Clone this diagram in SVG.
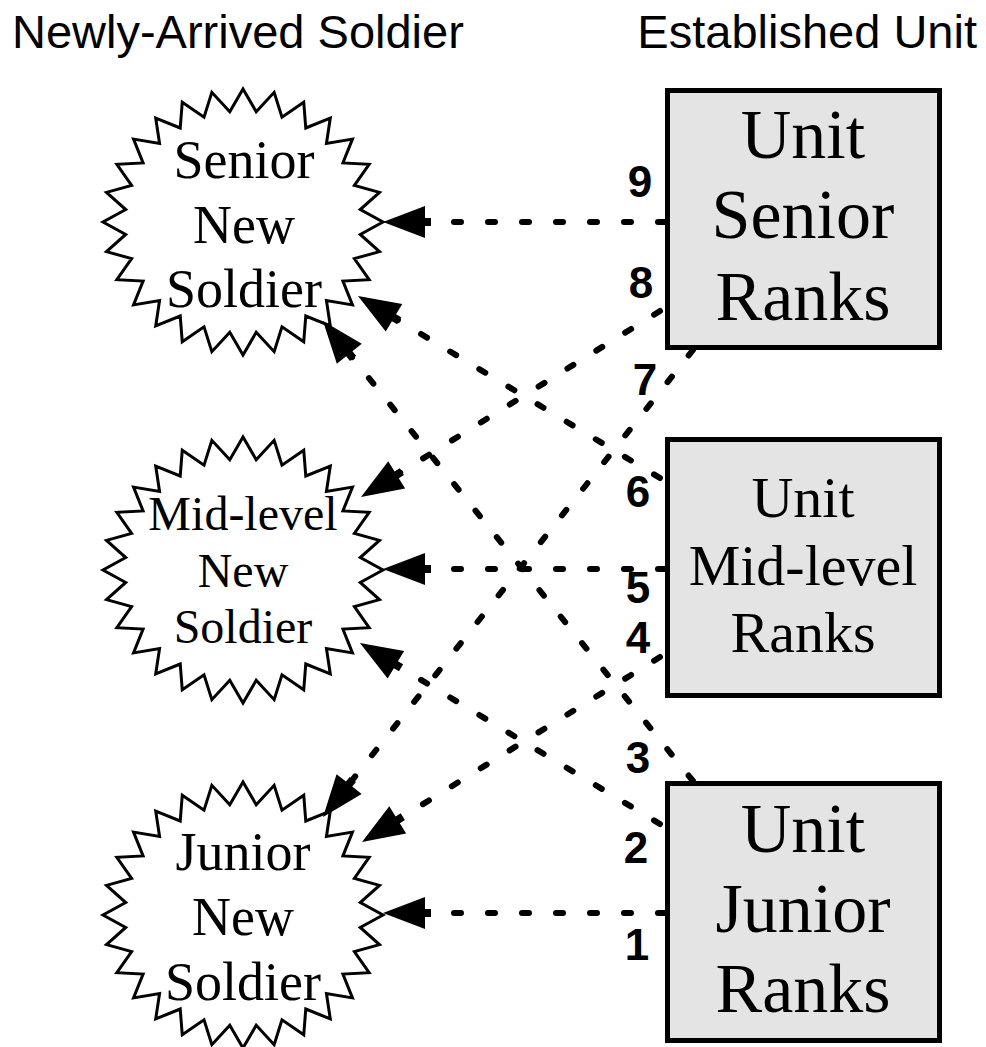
<svg xmlns="http://www.w3.org/2000/svg" xmlns:xlink="http://www.w3.org/1999/xlink" width="986" height="1047" viewBox="0 0 986 1047">
  <style>
    .hdr { font-family: "Liberation Sans", Arial, sans-serif; font-size: 47px; fill: #000; }
    .star { fill: #fff; stroke: #000; stroke-width: 3; stroke-linejoin: miter; }
    .box { fill: #e4e4e4; stroke: #000; stroke-width: 5; }
    .serif { font-family: "Liberation Serif", "Times New Roman", serif; fill: #000; text-anchor: middle; }
    .edge { fill: none; stroke: #000; stroke-width: 6; stroke-linecap: round; stroke-dasharray: 7 27; marker-end: url(#arrow); }
    .num { font-family: "Liberation Sans", Arial, sans-serif; font-weight: bold; font-size: 44px; fill: #000; text-anchor: middle; }
  </style>
  <defs>
    <!-- 28-point starburst, centred on the origin -->
    <path id="burst" d="M140,0 L117.26,12.43 L136.49,29.6 L111.38,36.66 L126.14,57.71 L99.91,59.06 L109.46,82.92 L83.44,78.49 L87.29,103.98 L62.78,93.99 L60.74,119.83 L38.97,104.77 L31.15,129.67 L13.21,110.3 L0,133 L-13.21,110.3 L-31.15,129.67 L-38.97,104.77 L-60.74,119.83 L-62.78,93.99 L-87.29,103.98 L-83.44,78.49 L-109.46,82.92 L-99.91,59.06 L-126.14,57.71 L-111.38,36.66 L-136.49,29.6 L-117.26,12.43 L-140,0 L-117.26,-12.43 L-136.49,-29.6 L-111.38,-36.66 L-126.14,-57.71 L-99.91,-59.06 L-109.46,-82.92 L-83.44,-78.49 L-87.29,-103.98 L-62.78,-93.99 L-60.74,-119.83 L-38.97,-104.77 L-31.15,-129.67 L-13.21,-110.3 L0,-133 L13.21,-110.3 L31.15,-129.67 L38.97,-104.77 L60.74,-119.83 L62.78,-93.99 L87.29,-103.98 L83.44,-78.49 L109.46,-82.92 L99.91,-59.06 L126.14,-57.71 L111.38,-36.66 L136.49,-29.6 L117.26,-12.43 Z"/>
    <!-- filled arrowhead placed at the line end, tip 42px ahead -->
    <marker id="arrow" markerUnits="userSpaceOnUse" markerWidth="60" markerHeight="40" refX="0" refY="0" orient="auto" overflow="visible">
      <path d="M-6,-4 L0,-4 L0,-16 L42,0 L0,16 L0,4 L-6,4 Z" fill="#000"/>
    </marker>
  </defs>

  <!-- column headings -->
  <text class="hdr" x="12" y="48">Newly-Arrived Soldier</text>
  <text class="hdr" x="977" y="48" text-anchor="end">Established Unit</text>

  <!-- new soldiers -->
  <g id="senior-new">
    <use xlink:href="#burst" href="#burst" class="star" x="243" y="222"/>
    <text class="serif" font-size="54" x="244" y="178">Senior</text>
    <text class="serif" font-size="54" x="244" y="243">New</text>
    <text class="serif" font-size="54" x="244" y="307">Soldier</text>
  </g>
  <g id="mid-new">
    <use xlink:href="#burst" href="#burst" class="star" x="243" y="570"/>
    <text class="serif" font-size="48" x="243" y="530">Mid-level</text>
    <text class="serif" font-size="48" x="243" y="587">New</text>
    <text class="serif" font-size="48" x="243" y="643">Soldier</text>
  </g>
  <g id="junior-new">
    <use xlink:href="#burst" href="#burst" class="star" x="243" y="915"/>
    <text class="serif" font-size="54" x="243" y="870">Junior</text>
    <text class="serif" font-size="54" x="243" y="935">New</text>
    <text class="serif" font-size="54" x="243" y="1000">Soldier</text>
  </g>

  <!-- unit ranks -->
  <g id="unit-senior">
    <rect class="box" x="667.5" y="90.5" width="272" height="257"/>
    <text class="serif" font-size="70" x="803" y="158">Unit</text>
    <text class="serif" font-size="70" x="803" y="238">Senior</text>
    <text class="serif" font-size="70" x="803" y="320">Ranks</text>
  </g>
  <g id="unit-mid">
    <rect class="box" x="667.5" y="439.5" width="272" height="256"/>
    <text class="serif" font-size="58" x="803" y="517">Unit</text>
    <text class="serif" font-size="58" x="803" y="585">Mid-level</text>
    <text class="serif" font-size="58" x="803" y="652">Ranks</text>
  </g>
  <g id="unit-junior">
    <rect class="box" x="667.5" y="783.5" width="272" height="257"/>
    <text class="serif" font-size="70" x="803" y="852">Unit</text>
    <text class="serif" font-size="70" x="803" y="932">Junior</text>
    <text class="serif" font-size="70" x="803" y="1012">Ranks</text>
  </g>

  <!-- connectors -->
  <g id="connectors">
    <line class="edge" x1="665" y1="222" x2="425" y2="222"/>
    <line class="edge" x1="660" y1="311" x2="396.7" y2="474.8"/>
    <line class="edge" x1="693" y1="350" x2="349.1" y2="784.1"/>
    <line class="edge" x1="660" y1="478" x2="394" y2="317.7"/>
    <line class="edge" x1="665" y1="569" x2="425" y2="569"/>
    <line class="edge" x1="660" y1="657" x2="397.7" y2="819.8"/>
    <line class="edge" x1="693" y1="781" x2="349.3" y2="353.7"/>
    <line class="edge" x1="660" y1="824" x2="395.9" y2="664.7"/>
    <line class="edge" x1="665" y1="913" x2="425" y2="913"/>
  </g>

  <!-- sequence numbers -->
  <g id="labels">
    <text class="num" x="640" y="197">9</text>
    <text class="num" x="641" y="298">8</text>
    <text class="num" x="645" y="395">7</text>
    <text class="num" x="638" y="507">6</text>
    <text class="num" x="638" y="603">5</text>
    <text class="num" x="638" y="653">4</text>
    <text class="num" x="638" y="773">3</text>
    <text class="num" x="636" y="863">2</text>
    <text class="num" x="637" y="960">1</text>
  </g>
</svg>
